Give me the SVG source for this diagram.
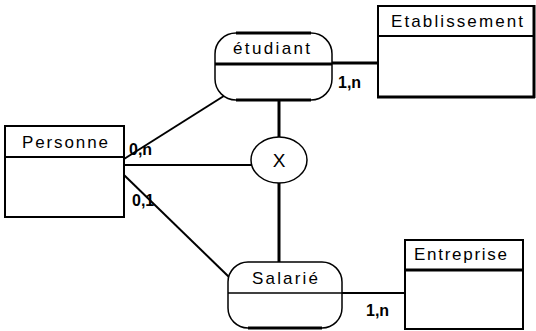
<svg xmlns="http://www.w3.org/2000/svg" width="536" height="331" viewBox="0 0 536 331">
<style>
.box{fill:#fff;stroke:#000;stroke-width:2}
.ent{fill:#fff;stroke:#000;stroke-width:1.5}
.thick{stroke:#000;stroke-width:3}
.ln{stroke:#000;stroke-width:2;fill:none}
.t{font-family:"Liberation Sans",Arial,sans-serif;font-size:17px;fill:#000}
.c{font-family:"Liberation Sans",Arial,sans-serif;font-size:16px;font-weight:bold;fill:#000}
</style>
<rect width="536" height="331" fill="#fff"/>
<g id="connectors">
<line class="ln" x1="124" y1="159" x2="227" y2="94"/>
<line class="ln" x1="124" y1="165" x2="252" y2="165"/>
<line class="ln" x1="124" y1="175" x2="229" y2="277"/>
<line class="thick" x1="279" y1="100" x2="279" y2="137"/>
<line class="thick" x1="279" y1="183" x2="279" y2="262"/>
<line class="thick" x1="332" y1="63" x2="377" y2="63"/>
<line class="ln" x1="342" y1="293" x2="405" y2="293"/>
<text class="c" x="129" y="155">0,n</text>
<text class="c" x="132" y="206">0,1</text>
<text class="c" x="338" y="88">1,n</text>
<text class="c" x="366" y="316">1,n</text>
</g>
<g id="personne">
<rect class="box" x="5" y="126" width="119" height="91"/>
<line class="box" x1="5" y1="157" x2="124" y2="157"/>
<text class="t" x="22" y="148" textLength="86" lengthAdjust="spacing">Personne</text>
</g>
<g id="etablissement">
<rect class="box" x="378" y="6" width="156" height="91"/>
<line class="thick" x1="377" y1="97" x2="535" y2="97"/>
<line class="thick" x1="534" y1="5" x2="534" y2="98"/>
<line class="box" x1="378" y1="36" x2="534" y2="36"/>
<text class="t" x="391" y="27" textLength="132" lengthAdjust="spacing">Etablissement</text>
</g>
<g id="entreprise">
<rect class="box" x="405" y="240" width="118" height="89"/>
<line class="thick" x1="405" y1="270" x2="523" y2="270"/>
<text class="t" x="414" y="260" textLength="93" lengthAdjust="spacing">Entreprise</text>
</g>
<g id="etudiant">
<rect class="ent" x="215" y="33" width="117" height="67" rx="21" ry="21"/>
<line class="thick" x1="236" y1="33" x2="311" y2="33"/>
<line class="thick" x1="236" y1="100" x2="311" y2="100"/>
<line class="thick" x1="215" y1="64" x2="332" y2="64"/>
<text class="t" x="233" y="54" textLength="77" lengthAdjust="spacing">étudiant</text>
</g>
<g id="x">
<ellipse class="ent" cx="279" cy="160" rx="28" ry="23"/>
<text x="279" y="167" text-anchor="middle" style="font-family:'Liberation Sans',Arial,sans-serif;font-size:19px;font-weight:300">X</text>
</g>
<g id="salarie">
<rect class="ent" x="228" y="262" width="114" height="66" rx="20" ry="20"/>
<line class="thick" x1="248" y1="328" x2="322" y2="328"/>
<line class="ln" x1="228" y1="293" x2="342" y2="293" style="stroke-width:1.5"/>
<text class="t" x="252" y="284" textLength="66" lengthAdjust="spacing">Salarié</text>
</g>
</svg>
